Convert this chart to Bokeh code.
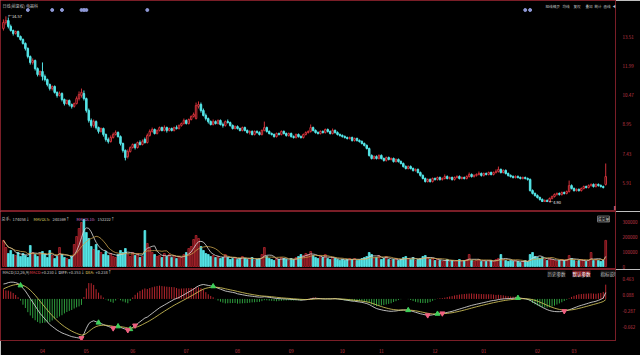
import numpy as np
import pandas as pd
from bokeh.plotting import figure
from bokeh.layouts import gridplot
from bokeh.models import Range1d, FixedTicker, Label
from bokeh.embed import file_html
from bokeh.resources import INLINE

# ---------------- data (daily K-line, ~2021/03 .. 2022/03) ----------------
opens = [
    13.94, 14.25, 14.35, 14.04, 13.83, 13.68, 13.78, 13.52, 13.36, 13.16,
    12.90, 12.48, 12.17, 12.27, 11.85, 11.54, 11.70, 11.44, 11.28, 11.02,
    10.81, 10.92, 10.61, 10.45, 10.55, 10.24, 10.03, 10.19, 9.98, 9.88,
    10.03, 10.29, 10.45, 10.55, 10.29, 9.67, 9.15, 8.89, 9.09, 8.78,
    8.58, 8.73, 8.42, 8.16, 8.05, 8.26, 8.42, 8.52, 8.31, 7.95,
    7.59, 7.27, 7.53, 7.74, 7.90, 7.74, 8.00, 7.90, 8.16, 8.00,
    8.37, 8.58, 8.68, 8.47, 8.63, 8.78, 8.63, 8.78, 8.63, 8.73,
    8.63, 8.78, 8.73, 8.89, 8.99, 9.15, 8.99, 9.20, 9.36, 9.25,
    9.88, 9.98, 9.67, 9.41, 9.25, 9.09, 8.94, 9.09, 8.99, 9.15,
    8.94, 8.89, 9.09, 9.04, 8.89, 8.73, 8.83, 8.73, 8.63, 8.78,
    8.63, 8.52, 8.58, 8.42, 8.58, 8.52, 8.42, 8.63, 8.78, 8.58,
    8.47, 8.42, 8.31, 8.47, 8.42, 8.58, 8.47, 8.37, 8.47, 8.31,
    8.26, 8.42, 8.31, 8.26, 8.42, 8.52, 8.58, 8.78, 8.63, 8.52,
    8.47, 8.58, 8.52, 8.68, 8.58, 8.47, 8.63, 8.52, 8.42, 8.37,
    8.31, 8.26, 8.21, 8.26, 8.11, 8.21, 8.11, 8.05, 7.95, 7.85,
    7.69, 7.33, 7.17, 7.27, 7.17, 7.33, 7.17, 7.07, 7.22, 7.12,
    7.17, 7.01, 7.12, 7.01, 6.91, 6.75, 6.65, 6.75, 6.65, 6.55,
    6.60, 6.44, 6.29, 6.13, 5.97, 6.08, 5.97, 6.13, 6.08, 6.18,
    6.08, 6.13, 6.23, 6.13, 6.18, 6.08, 6.18, 6.23, 6.13, 6.18,
    6.13, 6.23, 6.34, 6.23, 6.29, 6.34, 6.39, 6.29, 6.39, 6.34,
    6.44, 6.34, 6.44, 6.49, 6.60, 6.44, 6.55, 6.39, 6.29, 6.23,
    6.18, 6.23, 6.18, 6.13, 6.18, 6.13, 6.08, 5.50, 5.35, 5.24,
    5.14, 5.04, 4.93, 4.98, 4.93, 5.09, 5.19, 5.30, 5.35, 5.30,
    5.40, 5.35, 5.45, 5.76, 5.61, 5.50, 5.56, 5.50, 5.61, 5.71,
    5.66, 5.76, 5.82, 5.71, 5.82, 5.76, 5.71, 5.82,
]
closes = [
    14.25, 14.35, 14.04, 13.83, 13.68, 13.78, 13.52, 13.36, 13.16, 12.90,
    12.48, 12.17, 12.27, 11.85, 11.54, 11.70, 11.44, 11.28, 11.02, 10.81,
    10.92, 10.61, 10.45, 10.55, 10.24, 10.03, 10.19, 9.98, 9.88, 10.03,
    10.29, 10.50, 10.61, 10.29, 9.67, 9.15, 8.89, 9.09, 8.78, 8.58,
    8.73, 8.42, 8.16, 8.05, 8.26, 8.42, 8.52, 8.31, 7.95, 7.59,
    7.22, 7.53, 7.74, 7.90, 7.74, 8.00, 7.90, 8.05, 8.00, 8.37,
    8.58, 8.68, 8.47, 8.63, 8.78, 8.63, 8.78, 8.63, 8.73, 8.63,
    8.78, 8.73, 8.89, 8.99, 9.15, 8.99, 9.20, 9.36, 9.46, 9.93,
    9.98, 9.67, 9.41, 9.25, 9.09, 8.94, 9.09, 8.99, 9.15, 8.94,
    8.89, 9.09, 9.04, 8.89, 8.73, 8.83, 8.73, 8.63, 8.78, 8.63,
    8.52, 8.58, 8.42, 8.58, 8.52, 8.42, 8.63, 8.78, 8.58, 8.47,
    8.42, 8.31, 8.47, 8.42, 8.58, 8.47, 8.37, 8.47, 8.31, 8.26,
    8.42, 8.31, 8.26, 8.42, 8.52, 8.58, 8.78, 8.63, 8.52, 8.47,
    8.58, 8.52, 8.68, 8.58, 8.47, 8.63, 8.52, 8.42, 8.37, 8.31,
    8.26, 8.21, 8.26, 8.11, 8.21, 8.11, 8.05, 7.95, 7.85, 7.69,
    7.33, 7.17, 7.27, 7.17, 7.33, 7.17, 7.07, 7.22, 7.12, 7.17,
    7.01, 7.12, 7.01, 6.91, 6.75, 6.65, 6.75, 6.65, 6.55, 6.60,
    6.44, 6.29, 6.13, 5.97, 6.08, 5.97, 6.13, 6.08, 6.18, 6.08,
    6.13, 6.23, 6.13, 6.18, 6.08, 6.18, 6.23, 6.13, 6.18, 6.13,
    6.23, 6.34, 6.23, 6.29, 6.34, 6.39, 6.29, 6.39, 6.34, 6.44,
    6.34, 6.44, 6.49, 6.60, 6.44, 6.55, 6.39, 6.29, 6.23, 6.18,
    6.23, 6.18, 6.13, 6.18, 6.13, 6.08, 5.50, 5.35, 5.24, 5.14,
    5.04, 4.93, 4.98, 4.93, 5.09, 5.19, 5.30, 5.35, 5.30, 5.40,
    5.35, 5.45, 5.76, 5.61, 5.50, 5.56, 5.50, 5.61, 5.71, 5.66,
    5.76, 5.82, 5.71, 5.82, 5.76, 5.71, 5.66, 6.23,
]
highs = [
    14.41, 14.57, 14.51, 14.14, 13.88, 13.83, 13.83, 13.57, 13.42, 13.21,
    12.95, 12.53, 12.38, 12.32, 11.91, 11.75, 12.17, 11.54, 11.33, 11.07,
    10.97, 10.97, 10.66, 10.66, 10.61, 10.29, 10.24, 10.24, 10.03, 10.08,
    10.40, 10.66, 10.81, 10.71, 10.34, 9.77, 9.25, 9.20, 9.15, 8.83,
    8.78, 8.78, 8.47, 8.26, 8.37, 8.52, 8.63, 8.58, 8.37, 8.00,
    7.64, 7.64, 7.80, 7.95, 7.95, 8.05, 8.11, 8.16, 8.26, 8.47,
    8.68, 8.78, 8.73, 8.68, 8.83, 8.83, 8.89, 8.83, 8.78, 8.78,
    8.83, 8.89, 8.94, 9.04, 9.25, 9.20, 9.25, 9.41, 9.56, 10.08,
    10.14, 10.08, 9.77, 9.51, 9.30, 9.15, 9.20, 9.15, 9.20, 9.20,
    9.04, 9.15, 9.20, 9.09, 8.94, 8.89, 8.89, 8.78, 8.83, 8.83,
    8.68, 8.63, 8.63, 8.63, 8.63, 8.58, 8.68, 9.09, 8.83, 8.63,
    8.52, 8.47, 8.52, 8.52, 8.63, 8.63, 8.52, 8.52, 8.52, 8.37,
    8.47, 8.47, 8.37, 8.47, 8.58, 8.63, 8.94, 8.83, 8.68, 8.58,
    8.63, 8.63, 8.73, 8.73, 8.63, 8.73, 8.68, 8.58, 8.47, 8.42,
    8.37, 8.31, 8.31, 8.31, 8.26, 8.26, 8.16, 8.11, 8.00, 7.90,
    7.74, 7.38, 7.33, 7.33, 7.38, 7.38, 7.22, 7.27, 7.27, 7.22,
    7.22, 7.17, 7.17, 7.07, 6.96, 6.81, 6.81, 6.81, 6.70, 6.65,
    6.65, 6.49, 6.34, 6.18, 6.13, 6.13, 6.18, 6.18, 6.23, 6.23,
    6.18, 6.34, 6.29, 6.23, 6.23, 6.23, 6.29, 6.29, 6.23, 6.23,
    6.29, 6.44, 6.39, 6.34, 6.39, 6.49, 6.44, 6.44, 6.44, 6.49,
    6.49, 6.49, 6.60, 6.75, 6.65, 6.60, 6.60, 6.44, 6.34, 6.29,
    6.29, 6.29, 6.23, 6.23, 6.23, 6.18, 6.13, 5.56, 5.40, 5.30,
    5.19, 5.09, 5.04, 5.04, 5.14, 5.24, 5.35, 5.40, 5.40, 5.45,
    5.45, 5.50, 6.02, 5.82, 5.66, 5.61, 5.61, 5.66, 5.76, 5.76,
    5.82, 5.87, 5.87, 5.87, 5.87, 5.82, 5.76, 6.91,
]
lows = [
    13.83, 14.14, 13.94, 13.78, 13.57, 13.62, 13.47, 13.31, 13.10, 12.79,
    12.38, 12.06, 12.06, 11.75, 11.44, 11.44, 11.23, 11.18, 10.92, 10.71,
    10.71, 10.55, 10.34, 10.40, 10.14, 9.93, 9.98, 9.88, 9.77, 9.82,
    9.98, 10.19, 10.34, 10.19, 9.56, 9.04, 8.78, 8.78, 8.68, 8.47,
    8.52, 8.31, 8.05, 7.95, 8.00, 8.21, 8.37, 8.26, 7.85, 7.48,
    7.07, 7.17, 7.48, 7.69, 7.64, 7.69, 7.85, 7.85, 7.95, 7.95,
    8.31, 8.52, 8.42, 8.42, 8.58, 8.58, 8.58, 8.52, 8.58, 8.58,
    8.58, 8.68, 8.68, 8.83, 8.94, 8.94, 8.94, 9.15, 9.30, 9.20,
    9.77, 9.56, 9.36, 9.15, 8.99, 8.89, 8.89, 8.94, 8.94, 8.89,
    8.78, 8.83, 8.99, 8.83, 8.68, 8.68, 8.68, 8.58, 8.58, 8.58,
    8.47, 8.42, 8.37, 8.37, 8.47, 8.37, 8.37, 8.58, 8.52, 8.42,
    8.37, 8.26, 8.26, 8.37, 8.37, 8.42, 8.31, 8.31, 8.26, 8.21,
    8.21, 8.26, 8.21, 8.21, 8.37, 8.47, 8.52, 8.58, 8.47, 8.42,
    8.42, 8.47, 8.47, 8.52, 8.42, 8.42, 8.47, 8.37, 8.31, 8.26,
    8.21, 8.16, 8.16, 8.05, 8.05, 8.05, 8.00, 7.90, 7.80, 7.64,
    7.27, 7.12, 7.12, 7.12, 7.12, 7.12, 7.01, 7.01, 7.07, 7.07,
    6.96, 6.96, 6.96, 6.86, 6.70, 6.60, 6.60, 6.60, 6.49, 6.49,
    6.39, 6.23, 6.08, 5.92, 5.92, 5.92, 5.92, 6.02, 6.02, 6.02,
    6.02, 6.08, 6.08, 6.08, 6.02, 6.02, 6.13, 6.08, 6.08, 6.08,
    6.08, 6.18, 6.18, 6.18, 6.23, 6.29, 6.23, 6.23, 6.29, 6.29,
    6.29, 6.29, 6.39, 6.44, 6.39, 6.39, 6.34, 6.23, 6.18, 6.13,
    6.13, 6.13, 6.08, 6.08, 6.08, 6.02, 5.45, 5.30, 5.19, 5.09,
    4.98, 4.91, 4.91, 4.90, 4.92, 5.04, 5.14, 5.24, 5.24, 5.24,
    5.30, 5.30, 5.40, 5.56, 5.45, 5.45, 5.45, 5.45, 5.56, 5.61,
    5.61, 5.71, 5.66, 5.66, 5.71, 5.66, 5.61, 5.76,
]
volumes = [
    174058, 126700, 86700, 106700, 80000, 73300, 93300, 66700, 86700, 73300,
    60000, 140000, 93300, 80000, 66700, 86700, 100000, 80000, 60000, 106700,
    73300, 53300, 66700, 126700, 80000, 60000, 53300, 46700, 66700, 146700,
    200000, 253300, 293300, 313300, 226700, 186700, 133300, 113300, 146700, 106700,
    93300, 80000, 100000, 73300, 86700, 66700, 60000, 80000, 106700, 93300,
    120000, 80000, 66700, 93300, 73300, 86700, 60000, 66700, 240000, 153300,
    120000, 93300, 80000, 66700, 73300, 60000, 86700, 66700, 80000, 60000,
    73300, 53300, 66700, 60000, 80000, 93300, 120000, 133300, 180000, 206700,
    186700, 133300, 106700, 86700, 80000, 66700, 73300, 60000, 66700, 53300,
    60000, 80000, 60000, 46700, 53300, 60000, 46700, 53300, 66700, 53300,
    46700, 53300, 60000, 40000, 46700, 53300, 80000, 126700, 66700, 53300,
    46700, 40000, 53300, 46700, 60000, 53300, 46700, 40000, 53300, 46700,
    60000, 66700, 80000, 73300, 86700, 80000, 100000, 73300, 60000, 53300,
    66700, 60000, 80000, 53300, 46700, 60000, 53300, 46700, 40000, 46700,
    40000, 46700, 53300, 46700, 53300, 40000, 46700, 53300, 60000, 66700,
    93300, 80000, 53300, 60000, 73300, 46700, 53300, 66700, 46700, 40000,
    46700, 53300, 40000, 46700, 60000, 66700, 53300, 46700, 60000, 40000,
    46700, 53300, 66700, 73300, 60000, 46700, 53300, 40000, 46700, 40000,
    33300, 40000, 46700, 33300, 40000, 33300, 40000, 46700, 33300, 40000,
    46700, 80000, 40000, 33300, 40000, 46700, 33300, 40000, 33300, 40000,
    40000, 33300, 46700, 53300, 80000, 46700, 40000, 33300, 40000, 33300,
    40000, 33300, 26700, 33300, 40000, 33300, 80000, 93300, 66700, 60000,
    53300, 60000, 46700, 40000, 53300, 46700, 40000, 33300, 40000, 46700,
    40000, 46700, 73300, 53300, 40000, 33300, 40000, 46700, 40000, 33300,
    40000, 93300, 40000, 46700, 40000, 33300, 40000, 174058,
]
diff = [
    0.352, 0.363, 0.385, 0.396, 0.396, 0.385, 0.363, 0.319, 0.253, 0.187,
    0.099, 0.011, -0.077, -0.165, -0.253, -0.341, -0.407, -0.473, -0.539, -0.605,
    -0.649, -0.693, -0.737, -0.770, -0.803, -0.825, -0.847, -0.869, -0.891, -0.902,
    -0.913, -0.924, -0.924, -0.825, -0.693, -0.583, -0.539, -0.517, -0.539, -0.561,
    -0.583, -0.605, -0.627, -0.649, -0.671, -0.693, -0.671, -0.649, -0.671, -0.693,
    -0.715, -0.737, -0.715, -0.671, -0.627, -0.583, -0.539, -0.495, -0.451, -0.429,
    -0.385, -0.341, -0.297, -0.253, -0.209, -0.176, -0.143, -0.110, -0.077, -0.044,
    -0.011, 0.011, 0.033, 0.066, 0.099, 0.132, 0.165, 0.198, 0.231, 0.275,
    0.308, 0.330, 0.341, 0.330, 0.319, 0.308, 0.297, 0.275, 0.253, 0.231,
    0.209, 0.187, 0.176, 0.165, 0.154, 0.143, 0.121, 0.110, 0.099, 0.088,
    0.077, 0.070, 0.064, 0.055, 0.048, 0.042, 0.044, 0.051, 0.046, 0.037,
    0.029, 0.020, 0.011, 0.007, 0.004, 0.002, -0.002, -0.004, -0.011, -0.015,
    -0.018, -0.022, -0.029, -0.026, -0.020, -0.011, 0.000, 0.011, 0.015, 0.011,
    0.007, 0.002, 0.000, 0.002, 0.000, 0.004, 0.007, 0.000, -0.007, -0.015,
    -0.024, -0.033, -0.042, -0.051, -0.055, -0.064, -0.073, -0.081, -0.095, -0.110,
    -0.132, -0.165, -0.198, -0.227, -0.244, -0.257, -0.271, -0.279, -0.288, -0.293,
    -0.288, -0.284, -0.275, -0.266, -0.262, -0.262, -0.266, -0.279, -0.297, -0.315,
    -0.332, -0.350, -0.363, -0.376, -0.385, -0.385, -0.376, -0.363, -0.352, -0.345,
    -0.341, -0.332, -0.319, -0.306, -0.293, -0.275, -0.257, -0.240, -0.222, -0.205,
    -0.187, -0.169, -0.152, -0.139, -0.125, -0.112, -0.099, -0.086, -0.073, -0.059,
    -0.046, -0.037, -0.029, -0.015, -0.007, 0.000, 0.004, 0.007, 0.011, 0.015,
    0.020, 0.022, 0.018, 0.011, 0.002, -0.011, -0.033, -0.066, -0.099, -0.132,
    -0.165, -0.198, -0.227, -0.253, -0.275, -0.288, -0.297, -0.301, -0.301, -0.297,
    -0.288, -0.275, -0.257, -0.235, -0.213, -0.191, -0.169, -0.152, -0.134, -0.117,
    -0.099, -0.081, -0.068, -0.055, -0.033, -0.011, 0.022, 0.150,
]
dea_start = 0.238

price_ticks = [13.51, 11.99, 10.47, 8.95, 7.43, 5.91]
vol_ticks = [0, 100000, 200000, 300000]
vol_tick_labels = ["0", "100000", "200000", "300000"]
macd_ticks = [0.463, 0.088, -0.287, -0.662]
month_pos = [16, 34, 53, 75, 96, 118, 139, 155, 177, 197, 219, 234]
month_labels = ["04", "05", "06", "07", "08", "09", "10", "11", "12", "01", "02", "03"]
event_idx = [10, 20, 24, 32, 33, 34, 59, 214, 216]
sell_idx = [7, 39, 47, 52, 86, 166, 178, 211]     # green marks
buy_idx = [32, 45, 51, 54, 174, 180, 230]         # pink marks
high_idx, high_txt = 1, "←14.57"
low_idx, low_txt = 223, "←4.90"

# ---------------- derived ----------------
N = min(len(opens), len(closes), len(highs), len(lows), len(volumes), len(diff))
idx = np.arange(N)
o = np.array(opens[:N]); c = np.array(closes[:N])
h = np.array(highs[:N]); l = np.array(lows[:N])
v = np.array(volumes[:N], dtype=float)
d = np.array(diff[:N])
dea = [dea_start]
for val in d[1:]:
    dea.append(dea[-1] * 0.8 + val * 0.2)
dea = np.array(dea)
hist = 2 * (d - dea)
ma5 = pd.Series(v).rolling(5, min_periods=1).mean().values
ma10 = pd.Series(v).rolling(10, min_periods=1).mean().values
up = c >= o

BG = "#000000"
FRAME_LINE = "#7a1e27"
UPC = "#d0323a"
DNC = "#54e4e6"
AX_TXT = "#c03a48"
FONT = "Noto Sans CJK SC"
FS = "4.5px"
HS = "4px"

BORDER_R = 17
FRAME_W = 640 - BORDER_R
PX_PER_BAR = 2.47
xr = Range1d(-1.21, -1.21 + FRAME_W / PX_PER_BAR)


def make_fig(height, yr, bottom=0):
    p = figure(width=640, height=height, x_range=xr, y_range=yr,
               output_backend="svg", toolbar_location=None,
               x_axis_location=("below" if bottom else None), y_axis_location="right",
               min_border_left=0, min_border_right=BORDER_R, min_border_top=0,
               min_border_bottom=bottom, background_fill_color=BG, border_fill_color=BG,
               outline_line_color=FRAME_LINE, outline_line_width=1)
    p.grid.visible = False
    ax = p.yaxis[0]
    ax.axis_line_color = FRAME_LINE
    ax.major_tick_line_color = None
    ax.minor_tick_line_color = None
    ax.major_label_text_font_size = FS
    ax.major_label_text_color = AX_TXT
    ax.major_label_text_font = FONT
    ax.major_label_standoff = 1
    return p


def lab(p, x, y, text, color="#c8c8c8", bg=None, border=None, xu="screen", yu="screen", xo=0, size=FS):
    p.add_layout(Label(x=x, y=y, x_units=xu, y_units=yu, text=text, x_offset=xo,
                       text_color=color, text_font=FONT, text_font_size=size,
                       text_baseline="middle", background_fill_color=bg,
                       border_line_color=border))


# ---------------- price panel ----------------
p1 = make_fig(211, Range1d(4.411, 15.394))
p1.yaxis[0].ticker = FixedTicker(ticks=price_ticks)
p1.yaxis[0].major_label_overrides = {t: f"{t:.2f}" for t in price_ticks}
wick_col = [UPC if u else DNC for u in up]
p1.segment(x0=idx, y0=l, x1=idx, y1=h, line_color=wick_col, line_width=1)
p1.vbar(x=idx, width=0.62, top=np.maximum(o, c), bottom=np.minimum(o, c),
        fill_color=[BG if u else DNC for u in up], line_color=wick_col, line_width=1)
ev_y = p1.y_range.end - 0.05205 * 9.5
p1.scatter(x=event_idx, y=[ev_y] * len(event_idx), size=3, color="#8e98d6")
lab(p1, high_idx, h[high_idx], high_txt, color="#e6e6e6", xu="data", yu="data", xo=2, size=HS)
lab(p1, low_idx, l[low_idx], low_txt, color="#e6e6e6", xu="data", yu="data", xo=2, size=HS)
lab(p1, 2, 205.5, "日线(前复权)  电器科", color="#bdbdbd", size=HS)
for tx, xx in zip(["短线精灵", "均线", "复权", "叠加", "统计", "画线", "◀", "▾"],
                  [545, 562, 573, 585, 594, 603, 612, 618]):
    lab(p1, xx, 205.5, tx, color="#bdbdbd", size="3.6px")
lab(p1, FRAME_W + 1, 211 - 72.5, "11.62", color="#ffffff", bg="#8e2bd0")
lab(p1, 613, 5, "■", color="#e05a64", size="5px")

# ---------------- volume panel ----------------
VPX = 6667
p2 = make_fig(58, Range1d(-3 * VPX, 55 * VPX))
p2.yaxis[0].ticker = FixedTicker(ticks=vol_ticks)
p2.yaxis[0].major_label_overrides = dict(zip(vol_ticks, vol_tick_labels))
p2.vbar(x=idx, width=0.72, top=v, bottom=0,
        fill_color=["#5c1218" if u else DNC for u in up],
        line_color=["#b8262e" if u else DNC for u in up], line_width=0.8)
p2.line(idx, ma5, line_color="#dcdcdc", line_width=0.8)
p2.line(idx, ma10, line_color="#c9a24c", line_width=0.8)
vh = 50.5
for tx, xx, col in [("总手:", 1, "#c8c8c8"), ("174058↓", 12, "#c8c8c8"),
                    ("MAVOL5:", 33, "#d8d060"), ("240369↑", 52, "#c8c8c8"),
                    ("MAVOL10:", 76, "#d070d0"), ("152222↑", 97, "#c8c8c8")]:
    lab(p2, xx, vh, tx, color=col, size=HS)
lab(p2, 597, vh, "成交量", color="#cccccc", bg="#161616", border="#666666", size=HS)
lab(p2, 616, vh, "▾", color="#cccccc", size=HS)

# ---------------- MACD panel ----------------
p3 = make_fig(86, Range1d(-0.982, 0.695), bottom=10)
p3.yaxis[0].ticker = FixedTicker(ticks=macd_ticks)
p3.yaxis[0].major_label_overrides = {t: f"{t:.3f}" for t in macd_ticks}
p3.segment(x0=idx, y0=0, x1=idx, y1=hist,
           line_color=["#b8262e" if x >= 0 else "#2e9e3e" for x in hist], line_width=1)
p3.line(idx, d, line_color="#e8e8e8", line_width=0.8)
p3.line(idx, dea, line_color="#e0d060", line_width=0.8)
p3.scatter(x=sell_idx, y=d[sell_idx], marker="triangle", size=5, color="#3fcf5a")
p3.scatter(x=buy_idx, y=d[buy_idx], marker="inverted_triangle", size=5, color="#f06080")
xa = p3.xaxis[0]
xa.ticker = FixedTicker(ticks=month_pos)
xa.major_label_overrides = dict(zip(month_pos, month_labels))
xa.axis_line_color = FRAME_LINE
xa.major_tick_line_color = None
xa.minor_tick_line_color = None
xa.major_label_text_font_size = FS
xa.major_label_text_color = AX_TXT
xa.major_label_text_font = FONT
xa.major_label_standoff = 2
mh = 69
for tx, xx, col in [("MACD(12,26,9)", 2, "#c8c8c8"), ("MACD:", 29, "#e04050"),
                    ("+0.230↓", 41, "#c8c8c8"), ("DIFF:", 58, "#e8e8e8"),
                    ("+0.353↓", 68, "#c8c8c8"), ("DEA:", 85, "#e0d060"),
                    ("+0.238↑", 95, "#c8c8c8")]:
    lab(p3, xx, mh, tx, color=col, size=HS)
lab(p3, 547, 67, "历史参数", color="#bbbbbb", bg="#161616")
lab(p3, 572, 67, "默认参数", color="#ffffff", bg="#7a1820")
lab(p3, 600, 67, "指标说明", color="#bbbbbb", bg="#161616")
lab(p3, 7, -5, "2021/03/10/三", color="#ffffff", bg="#8a2be2", size=HS)

grid = gridplot([[p1], [p2], [p3]], toolbar_location=None)
open("out.html", "w").write(file_html(grid, INLINE))
